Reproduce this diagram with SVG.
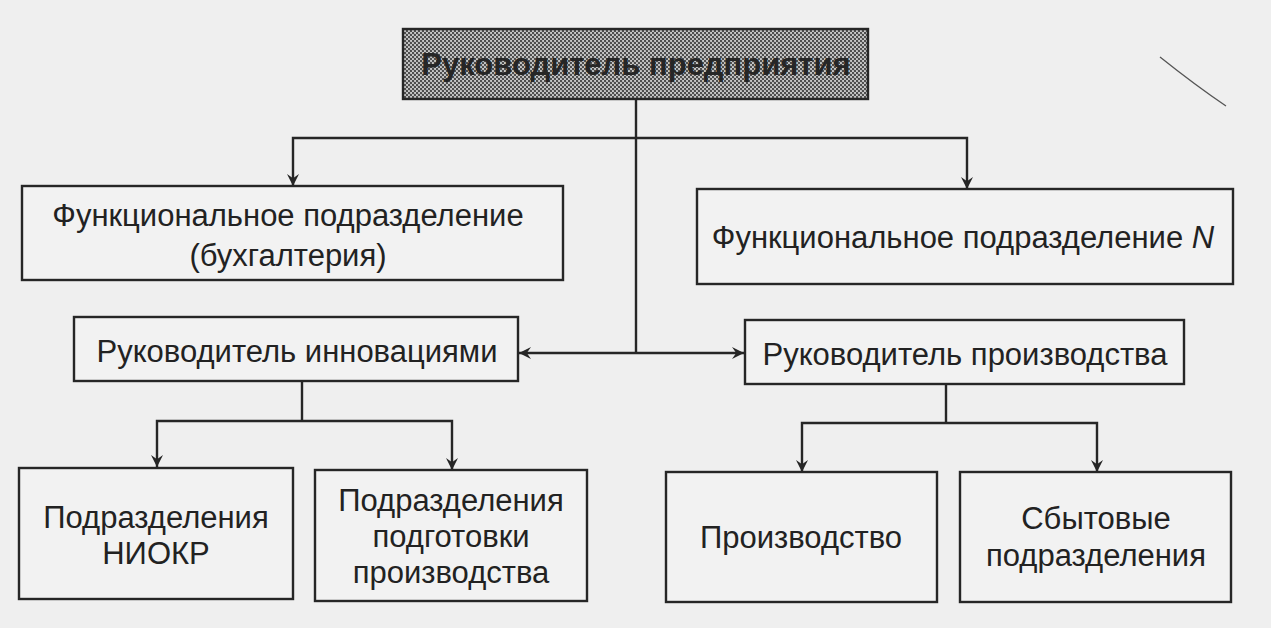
<svg xmlns="http://www.w3.org/2000/svg" width="1271" height="628" viewBox="0 0 1271 628">
<style>
.box{fill:#f2f2f2;stroke:#262626;stroke-width:2.4}
.t{font-family:"Liberation Sans",Arial,sans-serif;font-size:31px;fill:#222;text-anchor:middle}
.tb{font-family:"Liberation Sans",Arial,sans-serif;font-size:31px;font-weight:bold;fill:#262626;text-anchor:middle}
.ln{fill:none;stroke:#262626;stroke-width:2.4}
</style>
<defs>
<pattern id="dots" width="4" height="4" patternUnits="userSpaceOnUse">
<rect width="4" height="4" fill="#c8c8c8"/>
<circle cx="1" cy="1" r="1.2" fill="#4a4a4a"/>
<circle cx="3" cy="3" r="1.2" fill="#4a4a4a"/>
</pattern>
<marker id="ah" viewBox="0 0 10 10" refX="10" refY="5" markerWidth="18" markerHeight="12" markerUnits="userSpaceOnUse" orient="auto-start-reverse">
<path d="M0,0 L10,5 L0,10 L3.5,5 Z" fill="#262626"/>
</marker>
</defs>
<rect width="1271" height="628" fill="#efefef"/>
<g id="connectors">
<path class="ln" d="M636,99 V353"/>
<path class="ln" d="M293,186 V138 H967 V189" marker-start="url(#ah)" marker-end="url(#ah)"/>
<path class="ln" d="M519,353 H744" marker-start="url(#ah)" marker-end="url(#ah)"/>
<path class="ln" d="M302,381 V421"/>
<path class="ln" d="M157,467 V421 H452 V470" marker-start="url(#ah)" marker-end="url(#ah)"/>
<path class="ln" d="M946,384 V423"/>
<path class="ln" d="M802,472 V423 H1097 V472" marker-start="url(#ah)" marker-end="url(#ah)"/>
</g>
<g id="head">
<rect x="403" y="29" width="465" height="70" fill="url(#dots)" stroke="#262626" stroke-width="2.4"/>
<text class="tb" x="636" y="75">Руководитель предприятия</text>
</g>
<g id="func1">
<rect class="box" x="22" y="186" width="541" height="94"/>
<text class="t" x="288" y="226">Функциональное подразделение</text>
<text class="t" x="288" y="266">(бухгалтерия)</text>
</g>
<g id="funcN">
<rect class="box" x="697" y="189" width="536" height="95"/>
<text class="t" x="963" y="248">Функциональное подразделение <tspan font-style="italic">N</tspan></text>
</g>
<g id="innov">
<rect class="box" x="74" y="317" width="444" height="64"/>
<text class="t" x="297" y="362">Руководитель инновациями</text>
</g>
<g id="prodmgr">
<rect class="box" x="745" y="320" width="439" height="64"/>
<text class="t" x="965" y="365">Руководитель производства</text>
</g>
<g id="niokr">
<rect class="box" x="19" y="468" width="274" height="131"/>
<text class="t" x="156" y="528">Подразделения</text>
<text class="t" x="156" y="564">НИОКР</text>
</g>
<g id="prep">
<rect class="box" x="315" y="470" width="272" height="131"/>
<text class="t" x="451" y="511">Подразделения</text>
<text class="t" x="451" y="547">подготовки</text>
<text class="t" x="451" y="583">производства</text>
</g>
<g id="prod">
<rect class="box" x="666" y="472" width="271" height="130"/>
<text class="t" x="801" y="548">Производство</text>
</g>
<g id="sales">
<rect class="box" x="960" y="472" width="271" height="130"/>
<text class="t" x="1096" y="529">Сбытовые</text>
<text class="t" x="1096" y="566">подразделения</text>
</g>
<path d="M1160,57 Q1195,85 1226,106" fill="none" stroke="#555" stroke-width="1.3"/>
</svg>
